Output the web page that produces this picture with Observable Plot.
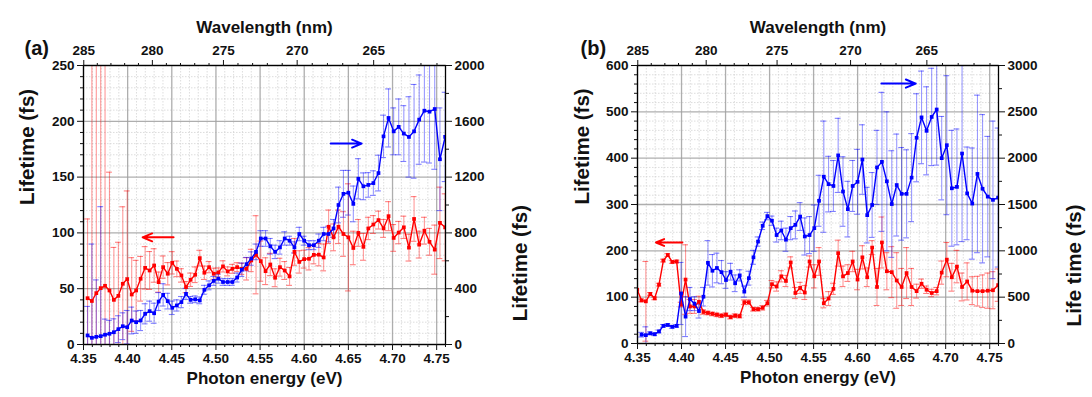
<!DOCTYPE html>
<html><head><meta charset="utf-8">
<script src="https://cdn.jsdelivr.net/npm/d3@7"></script>
<script src="https://cdn.jsdelivr.net/npm/@observablehq/plot@0.6"></script>
<style>
body{margin:0;background:#fff;}
#wrap{display:flex;width:1092px;height:397px;overflow:hidden;}
.panel{width:546px;height:397px;}
</style></head><body><div id="wrap"><div class="panel" id="pa"></div><div class="panel" id="pb"></div></div>
<script>
// Photon energies of the measured points (eV), point 0 lies just left of the frame
const energy = [4.3497,4.3546,4.3595,4.3645,4.3695,4.3744,4.3794,4.3844,4.3895,4.3945,4.3995,
 4.4046,4.4096,4.4147,4.4198,4.4249,4.4300,4.4351,4.4402,4.4454,4.4505,
 4.4557,4.4609,4.4661,4.4713,4.4765,4.4817,4.4869,4.4922,4.4975,4.5027,
 4.5080,4.5133,4.5186,4.5240,4.5293,4.5347,4.5400,4.5454,4.5508,4.5562,
 4.5616,4.5670,4.5725,4.5779,4.5834,4.5889,4.5944,4.5999,4.6054,4.6109,
 4.6165,4.6220,4.6276,4.6332,4.6388,4.6444,4.6500,4.6556,4.6613,4.6670,
 4.6726,4.6783,4.6841,4.6898,4.6955,4.7013,4.7070,4.7128,4.7186,4.7244,
 4.7302,4.7361,4.7419,4.7478,4.7537,4.7596];

// Panel (a)
const redA = [null,41.5,39,46,50.5,52.6,48.4,40,43.6,54.4,58.6,
 44.8,48.4,58.9,68.7,66.3,70.8,55.9,69.3,63.4,73.2,
 67.8,61.9,51.4,58,62.5,77.4,64.3,69.3,63.4,64.6,
 70,65.5,67.8,69.3,67.8,67.8,75.3,80.4,74.7,65.7,
 71.7,59.8,69.3,66.3,61,83,74,76.5,76.8,80.3,
 80.5,78,105.5,96,105.5,99,96,86.5,100,87.5,
 104,107.5,111.5,104,115,95.5,100.3,105,86.8,112.5,
 89.5,102,92,85,109,105];
const redErrA = [null,71,300,300,300,300,106,47,48,69,79,
 33,27,20,19,17,15,9,10,10,10,
 7,6,5,6,7,7,6,5,5,4,
 5,4,4,4,5,10,10,35,18,12,
 10,8,8,8,8,12,10,8,10,8,
 10,12,15,12,15,20,48,15,12,12,
 10,8,8,8,13,12,10,10,12,20,
 12,12,12,22,32,30];
const blueA = [null,65,48,55,60,70,77,88,110,131,124,
 172,160,172,220,239,224,308,356,311,263,
 280,304,363,320,324,316,392,424,456,472,
 448,448,448,480,536,576,616,664,760,760,
 704,664,696,760,744,696,792,744,712,712,
 744,792,792,832,1000,1080,1088,1008,1188,1134,
 1144,1157,1229,1492,1624,1528,1560,1512,1488,1528,
 1612,1676,1669,1688,1328,1488];
const blueErrA = [null,208,672,408,928,112,96,96,96,96,120,
 96,80,72,72,72,72,64,80,56,48,
 40,40,40,24,24,24,32,32,32,32,
 24,24,24,32,48,48,48,56,56,56,
 56,48,48,48,32,40,48,32,32,32,
 48,48,56,64,128,168,160,128,144,96,
 88,88,128,152,208,168,200,200,288,336,
 320,368,368,432,368,320];

// Panel (b)
const redB = [116,93,91,107,97.5,127,179,191,176,177,84,
 138,80,80,90,68,66,64,62,60,62,
 57,60,59,89,89,74,74,77,87,128,
 123,145,135,175,109,120,110,177,145,177,
 87,97,118,195,145,152,177,138,186,143,
 207,122,218,156,154,136,122,152,122,113,
 129,116,109,113,153,181,143,166,122,134,
 114,113,113,114,115,126];
const redErrB = [0,3,86,3,3,3,3,3,3,3,5,
 75,15,15,12,5,4,4,4,4,4,
 4,4,4,5,5,4,4,5,6,8,
 10,12,12,12,12,12,15,12,25,30,
 10,15,12,28,22,18,22,22,25,20,
 15,40,55,40,55,60,40,55,40,15,
 10,8,8,8,25,37,30,35,30,40,
 30,32,35,38,40,35];
const blueB = [null,95,90,110,100,130,190,200,180,190,540,
 290,480,430,350,505,870,785,815,770,685,
 775,650,735,560,705,930,1100,1270,1375,1325,
 1170,1220,1120,1245,1280,1370,1155,1170,1245,1540,
 1800,1720,1700,2030,1640,1450,1700,1745,1985,1385,
 1495,1900,1960,1750,1505,1710,1615,1615,1790,2220,
 2440,2295,2445,2525,2000,2140,1675,1690,2050,1620,
 1510,1830,1670,1585,1550,1575];
const blueErrB = [null,25,90,15,15,15,15,15,15,15,335,
 215,125,75,75,100,240,175,160,125,90,
 90,90,60,60,75,75,50,40,40,50,
 75,100,125,125,150,150,200,200,250,275,
 600,300,275,400,375,300,275,350,375,300,
 350,400,750,750,575,550,500,475,475,475,
 500,475,525,600,450,750,625,625,950,500,
 600,850,800,650,850,750];

// Axes
const energyTicks = [4.35,4.40,4.45,4.50,4.55,4.60,4.65,4.70,4.75];
const wavelengthTicks = [285,280,275,270,265];
const leftTicksA = [0,50,100,150,200,250];
const rightTicksA = [0,400,800,1200,1600,2000];
const leftTicksB = [0,100,200,300,400,500,600];
const rightTicksB = [0,500,1000,1500,2000,2500,3000];

// Direction arrows (annotation positions, data units of the left axis)
const arrowsA = [
  {x1:4.452, y1:96, x2:4.417, y2:96, c:"#ff0000"},
  {x1:4.630, y1:180, x2:4.665, y2:180, c:"#0000ff"}];
const arrowsB = [
  {x1:4.401, y1:218, x2:4.371, y2:218, c:"#ff0000"},
  {x1:4.627, y1:561, x2:4.666, y2:561, c:"#0000ff"}];

const hc = 1239.84;
const RED = "#ff0000", BLUE = "#0000ff";
const FONT = "'Liberation Sans', Arial, sans-serif";

function makePanel(cfg) {
  const f = cfg.factor;
  const rows = energy.map((e, i) => ({
    e, r: cfg.red[i], re: cfg.redErr[i],
    b: cfg.blue[i] == null ? null : cfg.blue[i] / f,
    be: cfg.blueErr[i] == null ? null : cfg.blueErr[i] / f
  }));
  const redRows = rows.filter(d => d.r != null);
  const blueRows = rows.filter(d => d.b != null);
  const cap = 0.0033;
  const errMarks = (data, v, err, color) => [
    Plot.ruleX(data, {x: "e", y1: d => d[v] - d[err], y2: d => d[v] + d[err], stroke: color, strokeOpacity: 0.4, strokeWidth: 1.1, clip: true}),
    Plot.ruleY(data.filter(d => d[err] > 0), {y: d => d[v] + d[err], x1: d => d.e - cap, x2: d => d.e + cap, stroke: color, strokeOpacity: 0.5, strokeWidth: 1.1, clip: true}),
    Plot.ruleY(data.filter(d => d[err] > 0), {y: d => d[v] - d[err], x1: d => d.e - cap, x2: d => d.e + cap, stroke: color, strokeOpacity: 0.5, strokeWidth: 1.1, clip: true})
  ];
  const yMax = cfg.leftTicks[cfg.leftTicks.length - 1];
  const minorE = d3.range(435, 477).map(v => v / 100).filter(v => !energyTicks.some(t => Math.abs(t - v) < 1e-6));
  const minorWl = d3.range(261, 286).filter(v => !wavelengthTicks.includes(v)).map(l => hc / l).filter(e => e >= 4.35 && e <= 4.76);
  const minorY = d3.range(0, yMax + 1e-9, cfg.leftMinorStep).filter(v => !cfg.leftTicks.includes(v));
  const rightMinor = d3.range(0, cfg.rightTicks[cfg.rightTicks.length - 1] + 1e-9, cfg.rightMinorStep)
    .filter(v => !cfg.rightTicks.includes(v)).map(v => v / f);
  const blank = () => "";
  return Plot.plot({
    width: 546, height: 397,
    marginLeft: cfg.mL, marginRight: cfg.mR, marginTop: 65, marginBottom: cfg.mB,
    style: {fontFamily: FONT, fontWeight: "bold", fontSize: "13px", color: "#111", background: "#fff", overflow: "visible"},
    x: {domain: [4.35, 4.76]},
    y: {domain: [0, yMax]},
    marks: [
      Plot.gridX(minorE, {stroke: "#cfcfcf", strokeOpacity: 0.7, strokeDasharray: "1.5,1.5"}),
      Plot.gridY(minorY, {stroke: "#cfcfcf", strokeOpacity: 0.7, strokeDasharray: "1.5,1.5"}),
      Plot.gridX(energyTicks, {stroke: "#a0a0a0", strokeOpacity: 0.85, strokeWidth: 1.3}),
      Plot.gridY(cfg.leftTicks, {stroke: "#a0a0a0", strokeOpacity: 0.85, strokeWidth: 1.3}),
      ...errMarks(redRows, "r", "re", RED),
      ...errMarks(blueRows, "b", "be", BLUE),
      Plot.line(redRows, {x: "e", y: "r", stroke: RED, strokeWidth: 1.4, clip: true}),
      Plot.dot(redRows, {x: "e", y: "r", symbol: "square", r: 2.1, fill: RED, clip: true}),
      Plot.line(blueRows, {x: "e", y: "b", stroke: BLUE, strokeWidth: 1.4, clip: true}),
      Plot.dot(blueRows, {x: "e", y: "b", symbol: "square", r: 2.1, fill: BLUE, clip: true}),
      Plot.arrow(cfg.arrows, {x1: "x1", y1: "y1", x2: "x2", y2: "y2", stroke: "c", strokeWidth: 2, headLength: 8, headAngle: 45}),
      Plot.frame({stroke: "#000", strokeWidth: 1.3}),
      Plot.axisX({anchor: "bottom", ticks: energyTicks, tickFormat: ".2f", tickSize: 6, tickPadding: 3, label: null, fontSize: 13.5}),
      Plot.axisX({anchor: "bottom", ticks: minorE, tickFormat: blank, tickSize: 3, label: null}),
      Plot.axisX({anchor: "top", ticks: wavelengthTicks.map(l => hc / l), tickFormat: d => String(Math.round(hc / d)), tickSize: 6, tickPadding: 5, label: null, fontSize: 13.5}),
      Plot.axisX({anchor: "top", ticks: minorWl, tickFormat: blank, tickSize: 3, label: null}),
      Plot.axisY({anchor: "left", ticks: cfg.leftTicks, tickSize: 6, tickPadding: 3, label: null, fontSize: 13.5}),
      Plot.axisY({anchor: "left", ticks: minorY, tickFormat: blank, tickSize: 3, label: null}),
      Plot.axisY({anchor: "right", ticks: cfg.rightTicks.map(v => v / f), tickFormat: d => String(Math.round(d * f)), tickSize: 6, tickPadding: 3, label: null, fontSize: 13.5}),
      Plot.axisY({anchor: "right", ticks: rightMinor, tickFormat: blank, tickSize: 3, label: null}),
      Plot.text(["Wavelength (nm)"], {frameAnchor: "top", dy: -45, fontSize: 17, fontWeight: "bold"}),
      Plot.text(["Photon energy (eV)"], {frameAnchor: "bottom", dy: 39, fontSize: 17, fontWeight: "bold"}),
      Plot.text([cfg.leftTitle], {frameAnchor: "left", dx: cfg.ltDx, rotate: -90, fontSize: 20.5, fontWeight: "bold"}),
      Plot.text([cfg.rightTitle], {frameAnchor: "right", dx: cfg.rtDx, rotate: -90, fontSize: 20.5, fontWeight: "bold"}),
      Plot.text([cfg.tag], {frameAnchor: "top-left", dx: cfg.tagDx, dy: -25, fontSize: 20, fontWeight: "bold"})
    ]
  });
}

document.getElementById("pa").append(makePanel({
  red: redA, redErr: redErrA, blue: blueA, blueErr: blueErrA, factor: 8,
  leftTicks: leftTicksA, leftMinorStep: 10, rightTicks: rightTicksA, rightMinorStep: 200,
  mL: 83, mR: 101, mB: 53, arrows: arrowsA,
  leftTitle: "Lifetime (fs)", rightTitle: "Lifetime (fs)", ltDx: -56, rtDx: 75, tag: "(a)", tagDx: -59
}));
document.getElementById("pb").append(makePanel({
  red: redB, redErr: redErrB, blue: blueB, blueErr: blueErrB, factor: 5,
  leftTicks: leftTicksB, leftMinorStep: 20, rightTicks: rightTicksB, rightMinorStep: 250,
  mL: 91, mR: 94, mB: 54, arrows: arrowsB,
  leftTitle: "Lifetime (fs)", rightTitle: "Life time (fs)", ltDx: -55, rtDx: 76, tag: "(b)", tagDx: -57
}));
</script>
</body></html>
